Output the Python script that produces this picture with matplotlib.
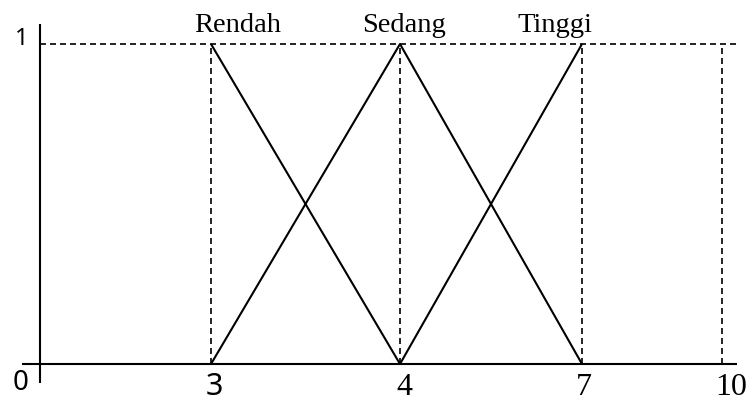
import matplotlib
matplotlib.use("Agg")
import matplotlib.pyplot as plt
import numpy as np

# membership functions
set_names = ["Rendah", "Sedang", "Tinggi"]
rendah_x = [3, 4]
rendah_y = [1, 0]
sedang_x = [3, 4, 7]
sedang_y = [0, 1, 0]
tinggi_x = [4, 7]
tinggi_y = [0, 1]
peak_x = [3, 4, 7, 10]
tick_values = [3, 4, 7, 10]
tick_labels = ["3", "4", "7", "10"]

# x axis is not linear in the original, map values to pixel columns
AXIS_VALUES = [0, 3, 4, 7, 10]
AXIS_PX = [40, 211, 400, 582, 722]


def px(v):
    return np.interp(v, AXIS_VALUES, AXIS_PX)


W, H = 750, 401
Y0, Y1 = 364, 44  # pixel rows of membership 0 and 1
scale = Y0 - Y1

fig = plt.figure(figsize=(W / 100, H / 100), dpi=100)
ax = fig.add_axes([0, 0, 1, 1])
ax.set_xlim(0, W)
ax.set_ylim(-(H - Y0) / scale, Y0 / scale)
ax.axis("off")

solid = dict(color="black", lw=1.5, solid_capstyle="butt")
dashed = dict(color="black", lw=1.2, dashes=(3.6, 2.4))

# axes
ax.plot([40, 40], [-(383 - Y0) / scale, (Y0 - 24) / scale], **solid)
ax.plot([22, 737], [0, 0], **solid)
ax.plot([40, 737], [1, 1], **dashed)
for v in peak_x:
    ax.plot([px(v), px(v)], [0, 1], **dashed)

# membership lines
ax.plot(px(rendah_x), rendah_y, **solid)
ax.plot(px(sedang_x), sedang_y, **solid)
ax.plot(px(tinggi_x), tinggi_y, **solid)

# set labels above the peaks
name_px = [238, 404, 555]
for name, x in zip(set_names, name_px):
    ax.text(x, (Y0 - 32) / scale, name, ha="center", va="baseline",
            family="Liberation Serif", fontsize=20.5)

# tick labels
tick_fonts = ["Noto Sans", "Liberation Serif", "Liberation Serif", "Liberation Serif"]
tick_px = [214, 404, 584, 731]
for lab, x, f in zip(tick_labels, tick_px, tick_fonts):
    ax.text(x, -(395 - Y0) / scale, lab, ha="center", va="baseline",
            family=f, fontsize=23 if f != "Noto Sans" else 22)

ax.text(22, (Y0 - 45) / scale, "1", ha="center", va="baseline",
        family="Noto Sans", fontsize=17)
ax.text(21, -(390 - Y0) / scale, "0", ha="center", va="baseline",
        family="Noto Sans", fontsize=20)

fig.savefig("out.png", dpi=100)
